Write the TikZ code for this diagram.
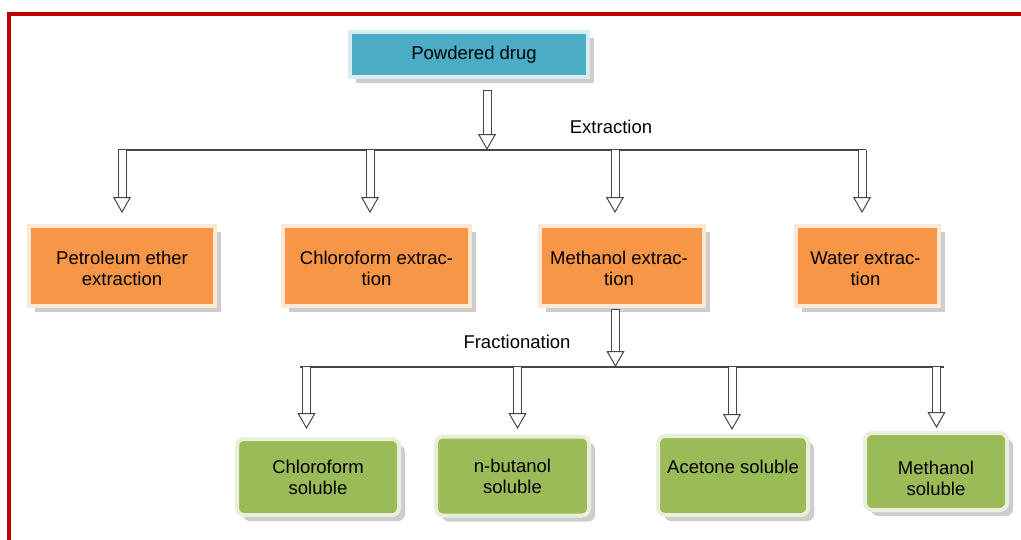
\documentclass[tikz,border=0pt]{standalone}
\usepackage{fontspec}
\setmainfont{Liberation Sans}
\usetikzlibrary{arrows.meta,shadows,calc}
\definecolor{frame}{RGB}{192,0,0}
\definecolor{tealbox}{RGB}{75,172,198}
\definecolor{orangebox}{RGB}{247,150,70}
\definecolor{greenbox}{RGB}{155,187,89}
\definecolor{lineclr}{RGB}{70,70,70}
\newcommand{\twolines}[3]{\raisebox{#1}[0pt][0pt]{\begin{tabular}{@{}c@{}}#2\\#3\end{tabular}}}
\begin{document}
\begin{tikzpicture}[x=1pt,y=-1pt,
  txt/.style={font=\fontsize{18.5}{21}\selectfont, text=black},
  basebox/.style={txt, draw=#1!22!white, line width=4pt, fill=#1, inner sep=0pt,
     align=center,
     drop shadow={shadow xshift=6pt, shadow yshift=-6pt, fill=black!28, opacity=0.7}},
  topbox/.style={basebox=tealbox},
  extbox/.style={basebox=orangebox},
  fracbox/.style={basebox=greenbox, rounded corners=7pt},
  bus/.style={draw=lineclr, line width=1.3pt},
  hollow/.style={draw=lineclr, line width=1pt, double=white, double distance=7pt,
     -{Triangle[length=16pt,width=18pt,fill=white,line width=1pt]}},
  shaftcap/.style={draw=lineclr, line width=1pt}
]
\useasboundingbox (0,0) rectangle (1021,539);
\fill[white] (0,0) rectangle (1021,539);
% frame (open at right and bottom)
\draw[frame, line width=4pt] (9.3,545) -- (9.3,14) -- (1025,14);

% top box
\node[topbox, minimum width=238pt, minimum height=45pt] (pd) at (469,54.5) {\hspace*{10pt}Powdered drug};

% extraction boxes
\node[extbox, minimum width=186pt, minimum height=80pt] (o1) at (122,266) {\twolines{-9pt}{Petroleum ether}{extraction}};
\node[extbox, minimum width=187pt, minimum height=80pt] (o2) at (376.5,266) {\twolines{-9pt}{Chloroform extrac-}{tion}};
\node[extbox, minimum width=164pt, minimum height=80pt] (o3) at (622,266) {\hspace*{-6pt}\twolines{-9pt}{Methanol extrac-}{tion}};
\node[extbox, minimum width=143pt, minimum height=80pt] (o4) at (867.5,266) {\hspace*{-4pt}\twolines{-9pt}{Water extrac-}{tion}};

% fraction boxes
\node[fracbox, minimum width=162pt, minimum height=76pt] (g1) at (318,477) {Chloroform\\soluble};
\node[fracbox, minimum width=153pt, minimum height=79pt] (g2) at (512.5,476) {n-butanol\\soluble};
\node[fracbox, minimum width=150pt, minimum height=79pt] (g3) at (733,475.5) {\raisebox{2pt}[0pt][0pt]{Acetone soluble}};
\node[fracbox, minimum width=142pt, minimum height=77pt] (g4) at (936,471.5) {\twolines{-14pt}{Methanol}{soluble}};

% labels
\node[txt] (ext) at (611,127) {Extraction};
\node[txt] (frac) at (517,342) {Fractionation};

% first level
\coordinate (s0) at (487,90);
\coordinate (e0) at (487,150);
\coordinate (busLa) at (118,150);
\coordinate (busRa) at (866,150);
\draw[bus] (busLa) -- (busRa);
\draw[hollow] (s0) -- (e0);
\draw[shaftcap] ($(s0)+(-4.5,0)$) -- ($(s0)+(4.5,0)$);
\coordinate (d1) at (122,150); \coordinate (t1) at (122,213);
\coordinate (d2) at (370,150); \coordinate (t2) at (370,213);
\coordinate (d3) at (615,150); \coordinate (t3) at (615,213);
\coordinate (d4) at (862,150); \coordinate (t4) at (862,213);
\draw[hollow] (d1) -- (t1);
\draw[hollow] (d2) -- (t2);
\draw[hollow] (d3) -- (t3);
\draw[hollow] (d4) -- (t4);

% second level
\coordinate (s5) at (615.5,309);
\coordinate (e5) at (615.5,367);
\coordinate (busLb) at (300,367);
\coordinate (busRb) at (944,367);
\draw[bus] (busLb) -- (busRb);
\draw[hollow] (s5) -- (e5);
\draw[shaftcap] ($(s5)+(-4.5,0)$) -- ($(s5)+(4.5,0)$);
\coordinate (f1) at (306.5,367); \coordinate (u1) at (306.5,429);
\coordinate (f2) at (517.5,367); \coordinate (u2) at (517.5,429);
\coordinate (f3) at (732,367);   \coordinate (u3) at (732,430);
\coordinate (f4) at (936.5,367); \coordinate (u4) at (936.5,428);
\draw[hollow] (f1) -- (u1);
\draw[hollow] (f2) -- (u2);
\draw[hollow] (f3) -- (u3);
\draw[hollow] (f4) -- (u4);
\end{tikzpicture}
\end{document}
